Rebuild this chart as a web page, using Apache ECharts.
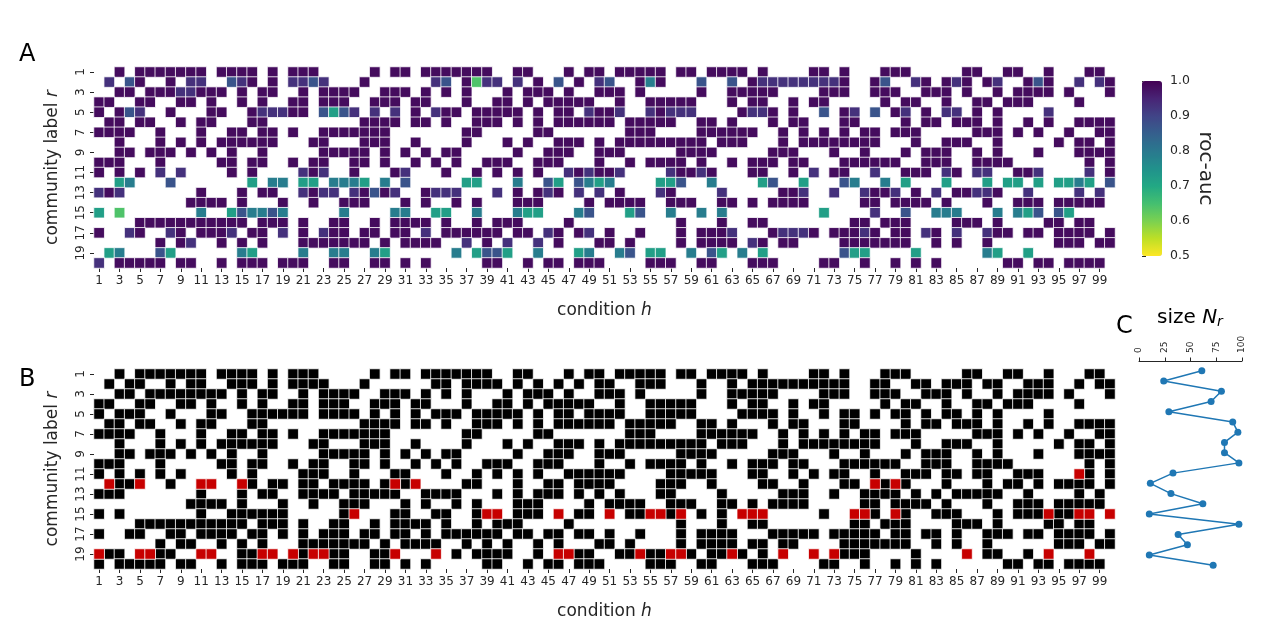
<!DOCTYPE html>
<html><head><meta charset="utf-8">
<script src="https://cdn.jsdelivr.net/npm/echarts@6/dist/echarts.min.js"></script>
<style>html,body{margin:0;padding:0;background:#fff}#c{width:1263px;height:621px}</style>
</head><body><div id="c"></div><script>
// ---------------- data ----------------
const conditions = ["1","2","3","4","5","6","7","8","9","10","11","12","13","14","15","16","17","18","19","20","21","22","23","24","25","26","27","28","29","30","31","32","33","34","35","36","37","38","39","40","41","42","43","44","45","46","47","48","49","50","51","52","53","54","55","56","57","58","59","60","61","62","63","64","65","66","67","68","69","70","71","72","73","74","75","76","77","78","79","80","81","82","83","84","85","86","87","88","89","90","91","92","93","94","95","96","97","98","99","100"];
const communities = ["1","2","3","4","5","6","7","8","9","10","11","12","13","14","15","16","17","18","19","20"];

// roc-auc shade (letter after a column number)
const shade = {a:0.985, b:0.93, c:0.87, d:0.79, e:0.72, f:0.64};

// panel A: filled columns per community row (1..20), with shade letter
const rowsA = [
"3,5,6,7,8,9,10,11,13,14,15,16,18,20,21,22,28,30,31,33,34,35,36,37,38,39,42,43,47,49,50,52,53,54,55,56,58,59,61,62,63,64,66,71,72,74,78,79,80,86,87,90,91,94,98,99",
"2b,4c,5,8,10b,11b,14c,15b,16,18,20b,21b,22c,23b,27,34b,35c,37,38f,39b,40b,42b,44,46c,48,50b,51c,54,55d,56,60c,63c,65,66b,67b,68b,69b,70b,71b,72b,73b,74,77,78c,81b,82,84,85b,86,88,89b,92,93c,94,97b,99b,100",
"3,4,6,7,8,9b,10b,11,12,13,15,17,18,21,23,24,25,26,29,30,31,33,35,37,41,43,44,45,47,50,51,52,54,60,63,64,65,66,67,72,73,74,77,78,79,82,83,84,86,89,91,92,93,94,96,100",
"1,2,5,6,9,10,12,15,17,20,21,23,24,25,28,29,30,32,33,37,40,41,43,45,46,47,48,49,52,55,56,57,58,59,63,65,66,69,71,72,78,80,81,84,87,88,90,91,92,97",
"1,3,4c,5b,8,12,13,16,17b,18b,19b,20,21,23c,24e,25c,26b,28b,30b,32,34b,35,36,38,39,40,41,42,44,46,47,49b,50,51,52b,55b,56,57b,58b,59b,64,65b,66b,67,69,72c,74,75b,77c,79,80b,82,84b,85b,87,89,94b",
"2,3,5,6,9,11,12,16,17,27,28,29,30,32,33,35,38,39,40,42,44,46,47,48,49,50,51,53,54,55,56,57,60,61,63,67,69,70,74,75,80,82,83,85,86,87,89,92,94,97,98,99,100",
"1,2,3,4,7,11,14,15,17,18,20,23,24,25,26,27,28,29,37,38,44,45,53,54,55,60,61,62,63,64,65,68,70,72,74,76,77,79,80,81,87,88,89,91,93,96,99,100",
"3,7,9,11,13,14,15,16,17,18,22,23,27,28,29,32,37,41,43,46,47,48,50,52,53,54,55,56,57,58,59,60,62,63,64,68,70,71,72,73,74,75,76,77,81,84,85,86,89,95,97,98,100",
"3,4,6,7,8,10,12,14,17,23,24,25,26,27,29,31,33,35,36,42,45,46,47,50,51,52,58,59,60,61,67,68,69,73,76,80,82,83,84,87,89,93,97,98,99,100",
"1,2,3,7,13,14,16,17,20,22,23,26,27,29,32,34,36,39,40,41,44,45,46,50,53,55,56,57,58,60,63,65,66,67,69,70,74,75,76,77,78,79,82,83,84,87,88,89,90,98,100",
"1,3,5,7b,9b,14,16,21b,22,23b,26,30,31b,35,38,40,42,44,47b,48,49b,50,51,52b,57b,58,59,60b,61,65,66,69,71b,73,74,77b,80,81,82,84b,85,87b,88b,91,92,93b,98b,100",
"3e,4d,8c,16e,18d,19d,21e,22e,24d,25d,26d,27e,29d,31c,37e,38e,42d,45c,46e,48c,49d,50e,51d,56e,57e,58c,61d,66e,67c,70e,74c,75d,78d,80e,84e,88e,90e,91e,93e,95e,96e,97d,98e,100c",
"1b,2,3b,11,15,17,18,21b,22,23b,24b,26b,27,28c,29,30b,33,34b,35b,36b,40b,42,44,45b,46,48b,50b,52,56b,57,62b,68,69,70b,73b,76b,77,78,79b,81,83b,85,86,87b,88b,89,92b,97b,99b",
"10,11,12,13,15,19,22,25,26,27,31,33,36,38,42,43,44,49,51,52,53,54,57,58,59,62,63,65,67,68,69,70,76,77,79,80,81,82,84,88,91,92,93,95,96,97,98,99",
"1e,3f,11d,14e,15c,16d,17d,18c,19d,25d,30d,31d,34e,35e,38d,42d,43e,44e,48d,49c,53e,54c,57d,60d,62d,72e,77b,80c,83d,84d,85d,89d,91d,92e,93c,95c,96e",
"5,6,7,8,9,10,11,12,13,14,15,17,18,19,21,24,25,28,30,31,32,33,35,38,40,41,42,47,58,62,65,66,75,76,78,79,80,85,86,87,89,94,95,97,98",
"1,4b,5,8b,9,11,12,13,14b,16,17,19b,21,23b,24,25,27,28,30,31,33b,35,36,37,38,39,40,42,43,45b,46,48,49b,51,54,58,60,61,62,63b,67,68b,69b,70b,71,73,74,75,76b,77,79,80,82b,83,85b,88b,89,90,92,93,95,96,97,98,100",
"7,9,10b,13,15,17,21,22,23,24,25,26,27,29,31,32,33,34,37b,39,41b,44b,46,50,51,53,58,60,61,62,63,65b,66,68,69,74,75,76,77,78,79,80,83,85,88,95,96,97,99,100",
"2e,3d,7c,8e,15d,16e,21d,24d,25d,28d,29e,36d,38e,39c,40c,41e,44d,48e,49d,52d,53c,55e,56e,59d,61c,62e,64d,66e,74c,75e,76e,81e,88d,89e,92e",
"1b,3,4,5,6,7,9,10,13,15,16,17,19,20,21,24,25,28,29,31,33,39,40,43,45,46,48,49,50,55,56,57,60,61,65,66,67,72,73,76,79,81,83,90,91,93,94,96,97,98,99"
];

// panel B: black cells are the cells of panel A; red cells are extra, per row
const redB = [
"","","","","","","","","","",
"97",
"2,5,11,12,15,30,32,77,79",
"","",
"26,39,40,46,51,55,56,58,64,65,66,75,76,79,94,97,98,100",
"","","",
"1,5,6,11,12,17,18,20,22,23,30,34,46,47,54,57,58,63,68,71,73,86,94,98",
""
];

// panel C: community sizes N_r (rows 1..20)
const sizes = [61, 24, 80, 70, 29, 91, 96, 83, 83, 97, 33, 11, 31, 62, 10, 97, 38, 47, 10, 72];
const sizeTicks = [0, 25, 50, 75, 100];
const aucTicks = [0.5, 0.6, 0.7, 0.8, 0.9, 1.0];

// ---------------- build ----------------
function parseRow(s){
  if(!s) return [];
  return s.split(',').map(t=>{const m=t.trim().match(/^(\d+)([a-f]?)$/); return {col:+m[1], code:m[2]||'a'};});
}
const cellsA = [], cellsB = [];
rowsA.forEach((s,r)=>parseRow(s).forEach(c=>{cellsA.push([c.col-1, r, shade[c.code]]); cellsB.push([c.col-1, r, 1]);}));
redB.forEach((s,r)=>parseRow(s).forEach(c=>cellsB.push([c.col-1, r, 2])));

const FONT = 'DejaVu Sans';
const TXT = '#262626';
const viridisRev = ['#fde725','#bddf26','#7ad151','#44bf70','#22a884','#21918c','#2a788e','#355f8d','#414487','#482475','#440154'];

const richName = {n:{fontFamily:FONT,fontSize:17,color:TXT}, i:{fontFamily:FONT,fontSize:17,fontStyle:'italic',color:TXT}};
function heatX(gi){
  return {type:'category', gridIndex:gi, data:conditions, position:'bottom',
    axisLine:{show:false}, splitLine:{show:false}, splitArea:{show:false},
    axisTick:{show:true, interval:1, alignWithLabel:true, length:4, lineStyle:{color:TXT,width:1}},
    axisLabel:{interval:1, fontFamily:FONT, fontSize:12, color:TXT, margin:7},
    name:'{n|condition }{i|h}', nameLocation:'middle', nameGap:34, nameTextStyle:{rich:richName}};
}
function heatY(gi){
  return {type:'category', gridIndex:gi, data:communities, inverse:true,
    axisLine:{show:false}, splitLine:{show:false}, splitArea:{show:false},
    axisTick:{show:true, interval:1, alignWithLabel:true, length:4, lineStyle:{color:TXT,width:1}},
    axisLabel:{interval:1, rotate:90, fontFamily:FONT, fontSize:12, color:TXT, margin:7},
    name:'{n|community label }{i|r}', nameLocation:'middle', nameRotate:90, nameGap:33, nameTextStyle:{rich:richName}};
}

const option = {
  animation:false,
  backgroundColor:'#fff',
  grid:[
    {left:94, top:67, width:1021, height:201},
    {left:94, top:369, width:1021, height:200},
    {left:1139, top:361, width:103, height:214},
    {left:1142, top:81, width:20, height:175}
  ],
  xAxis:[
    heatX(0), heatX(1),
    {type:'value', gridIndex:2, position:'top', min:sizeTicks[0], max:sizeTicks[sizeTicks.length-1], interval:25,
      axisLine:{show:true, lineStyle:{color:TXT,width:1}}, splitLine:{show:false},
      axisTick:{show:true, length:3.5, lineStyle:{color:TXT}},
      axisLabel:{rotate:-90, fontFamily:FONT, fontSize:9, color:TXT, margin:8}},
    {type:'value', gridIndex:3, show:false}
  ],
  yAxis:[
    heatY(0), heatY(1),
    {type:'value', gridIndex:2, inverse:true, min:0.05, max:20.95, show:false},
    {type:'value', gridIndex:3, position:'right', min:aucTicks[0], max:aucTicks[aucTicks.length-1], interval:0.1,
      axisLine:{show:false}, splitLine:{show:false},
      axisTick:{show:true, length:4, lineStyle:{color:TXT}},
      axisLabel:{fontFamily:FONT, fontSize:12.5, color:TXT, margin:8, formatter:v=>v.toFixed(1)},
      name:'roc-auc', nameLocation:'middle', nameRotate:-90, nameGap:33,
      nameTextStyle:{fontFamily:FONT, fontSize:20, color:TXT}}
  ],
  visualMap:[
    {type:'continuous', seriesIndex:0, min:0.5, max:1.0, inRange:{color:viridisRev},
      show:true, calculable:false, hoverLink:false, orient:'vertical', left:1142, top:81,
      itemWidth:20, itemHeight:175, padding:0, text:null, indicatorSize:0,
      indicatorStyle:{opacity:0}, textStyle:{color:'transparent'}},
    {type:'piecewise', seriesIndex:1, show:false,
      pieces:[{min:0.5,max:1.5,color:'#000000'},{min:1.5,max:2.5,color:'#c70000'}]}
  ],
  graphic:[
    {type:'text', left:19, top:43, style:{text:'A', font:'24px "DejaVu Sans"', fill:'#000'}},
    {type:'text', left:19, top:368, style:{text:'B', font:'24px "DejaVu Sans"', fill:'#000'}},
    {type:'text', left:1116, top:315, style:{text:'C', font:'24px "DejaVu Sans"', fill:'#000'}},
    {type:'text', left:1157, top:308, style:{text:'{a|size }{i|N}{s|r}', fill:'#000',
      rich:{a:{fontFamily:FONT,fontSize:20,fill:'#000'}, i:{fontFamily:FONT,fontSize:20,fontStyle:'italic',fill:'#000'},
            s:{fontFamily:FONT,fontSize:14,fontStyle:'italic',fill:'#000',padding:[9,0,0,0]}}}}
  ],
  series:[
    {type:'heatmap', xAxisIndex:0, yAxisIndex:0, data:cellsA,
      itemStyle:{borderColor:'#ffffff', borderWidth:0.8}, emphasis:{disabled:true}},
    {type:'heatmap', xAxisIndex:1, yAxisIndex:1, data:cellsB,
      itemStyle:{borderColor:'#ffffff', borderWidth:0.8}, emphasis:{disabled:true}},
    {type:'line', xAxisIndex:2, yAxisIndex:2, data:sizes.map((v,i)=>[v,i+1]),
      symbol:'circle', symbolSize:7, showSymbol:true,
      itemStyle:{color:'#1f77b4'}, lineStyle:{color:'#1f77b4', width:1.5}}
  ]
};
const chart = echarts.init(document.getElementById('c'));
chart.setOption(option);
</script></body></html>
